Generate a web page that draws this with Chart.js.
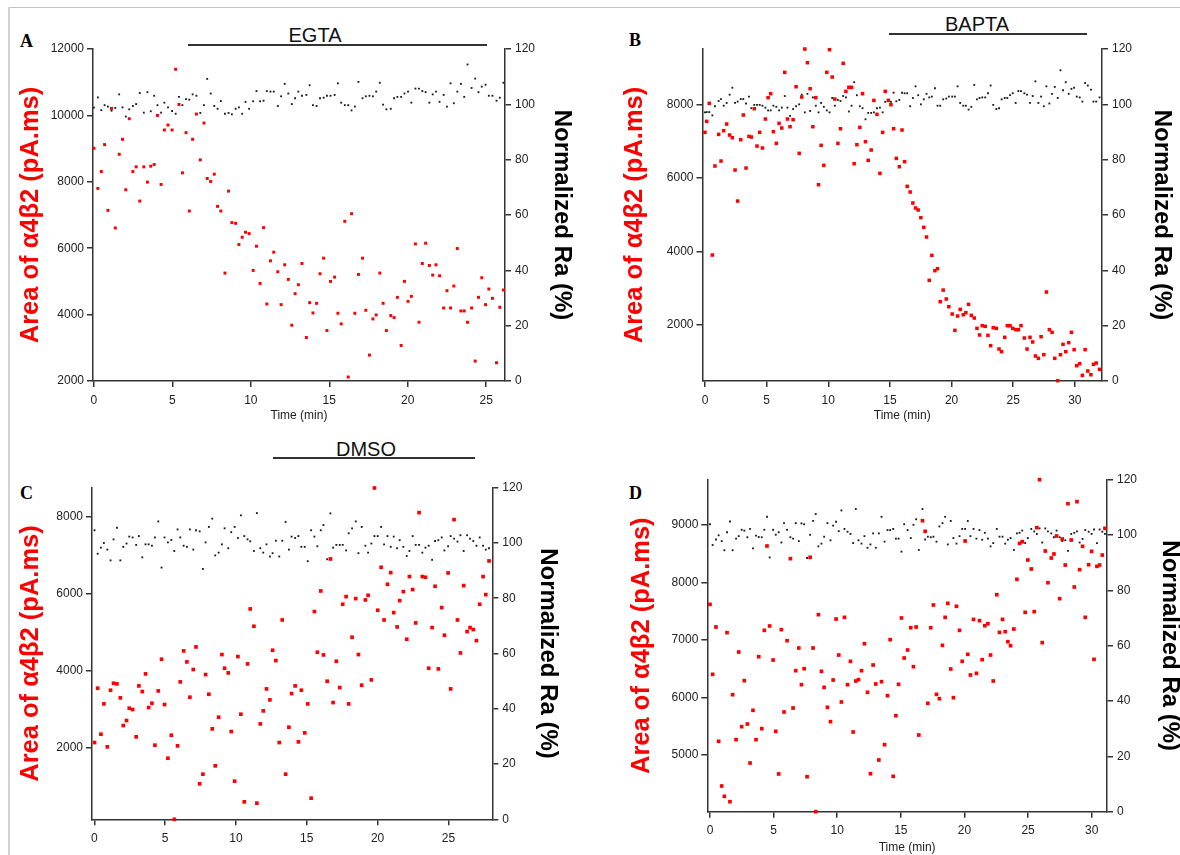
<!doctype html>
<html lang="en">
<head>
<meta charset="utf-8">
<title>α4β2 area and normalized Ra over time</title>
<script src="https://cdn.jsdelivr.net/npm/chart.js"></script>
<style>
  html, body { margin: 0; padding: 0; background: #fff; }
  body { width: 1180px; height: 855px; position: relative; overflow: hidden; font-family: "Liberation Sans", Arial, sans-serif; }
  .frame-top { position: absolute; left: 8px; top: 7px; width: 1172px; border-top: 1px solid #c4c4c4; }
  .frame-left { position: absolute; left: 8px; top: 7px; height: 848px; border-left: 2px solid #d2d2d2; }
  canvas { position: absolute; }
  .letter { position: absolute; font-family: "Liberation Serif", "Times New Roman", serif; font-weight: bold; font-size: 18px; line-height: 18px; }
  .drug { position: absolute; font-size: 20px; line-height: 20px; color: #111; transform: translateX(-50%); white-space: nowrap; }
  .bar { position: absolute; border-top: 2px solid #333; }
</style>
</head>
<body>
<div class="frame-top"></div>
<div class="frame-left"></div>

<div class="letter" style="left:20px; top:32px;">A</div>
<div class="letter" style="left:629px; top:31px;">B</div>
<div class="letter" style="left:20px; top:484px;">C</div>
<div class="letter" style="left:629px; top:484px;">D</div>

<div class="drug" style="left:315px; top:25px;">EGTA</div>
<div class="bar" style="left:188px; top:44px; width:299px;"></div>
<div class="drug" style="left:977px; top:14px;">BAPTA</div>
<div class="bar" style="left:889px; top:33px; width:198px;"></div>
<div class="drug" style="left:366px; top:439px;">DMSO</div>
<div class="bar" style="left:273px; top:457px; width:202px;"></div>

<canvas id="chartA" width="600" height="430" style="left:0px; top:0px;"></canvas>
<canvas id="chartB" width="600" height="430" style="left:600px; top:0px;"></canvas>
<canvas id="chartC" width="600" height="425" style="left:0px; top:430px;"></canvas>
<canvas id="chartD" width="600" height="425" style="left:600px; top:430px;"></canvas>

<script>
// ---- panel A (EGTA) ----
const timeA = [0.00,0.25,0.47,0.68,0.89,1.12,1.36,1.61,1.82,2.03,2.25,2.48,2.69,2.92,3.18,3.41,3.62,3.84,4.05,4.28,
  4.49,4.72,4.98,5.21,5.42,5.64,5.87,6.08,6.29,6.53,6.78,7.01,7.22,7.44,7.67,7.88,8.09,8.35,8.58,8.79,
  9.03,9.24,9.45,9.66,9.89,10.15,10.36,10.59,10.81,11.02,11.25,11.46,11.72,11.93,12.16,12.39,12.61,12.82,13.03,
  13.26,13.54,13.75,13.96,14.19,14.41,14.64,14.85,15.08,15.34,15.55,15.76,15.99,16.21,16.42,16.63,16.86,17.12,17.33,17.56,
  17.78,17.99,18.22,18.43,18.64,18.92,19.13,19.34,19.58,19.79,20.02,20.23,20.49,20.72,20.93,21.14,21.38,21.59,21.80,22.03,
  22.29,22.50,22.73,22.94,23.16,23.39,23.60,23.81,24.07,24.30,24.51,24.72,24.96,25.17,25.40,25.66,25.87,26.10];
const areaA = [9010,7800,8310,9120,7140,10210,6610,8830,9280,7760,9900,8310,8450,7420,8450,7990,8470,8520,10000,7920,
  9560,9710,9560,11390,10330,8270,9480,7120,9280,10040,8660,9770,8100,8010,8230,7260,7120,5250,7720,6770,
  6750,6110,6330,6480,6440,5330,6060,4940,6620,4320,5620,5880,5290,4300,5500,5060,3680,4630,4900,
  5540,3310,4360,4050,4340,5230,5700,3520,5000,5130,4040,3720,6810,2120,7040,4040,5210,5700,4130,2780,
  3870,3990,5250,4340,3520,3970,3910,4520,3070,5000,4400,4550,6130,3770,5540,6150,5480,5190,5500,5170,
  4200,4720,4200,4860,5990,4110,4110,3770,4200,2600,4520,5110,4300,4770,4490,2550,4220,4740];
const raA = [98.8,102.5,97.9,99.7,99.2,97.7,98.7,103.6,98.9,95.6,98.2,99.4,100.1,104.1,97.0,104.4,97.5,103.1,99.7,97.0,
  100.6,98.9,97.6,96.6,102.7,99.7,101.9,101.7,103.6,103.1,96.9,99.7,109.2,103.9,99.4,98.4,101.2,96.6,96.9,96.4,
  98.4,98.9,96.6,100.9,98.4,101.1,104.8,101.1,101.3,104.8,104.6,104.6,99.4,102.9,107.4,103.9,100.1,102.2,104.6,
  103.1,103.4,106.9,99.7,99.4,102.2,102.4,103.1,103.1,103.4,107.6,100.6,99.7,99.7,97.8,99.2,108.1,102.2,102.9,103.1,
  102.9,104.6,107.8,99.9,98.2,98.4,102.2,102.7,102.7,103.9,104.6,100.6,105.7,105.7,104.8,104.4,100.6,103.6,104.6,100.9,
  103.4,99.2,107.6,100.4,104.6,107.4,102.7,114.4,105.9,109.3,104.4,106.4,107.1,103.1,103.1,101.3,102.4,107.8];

// ---- panel B (BAPTA) ----
const timeB = [0.00,0.14,0.35,0.60,0.81,1.11,1.30,1.52,1.76,2.00,2.22,2.44,2.65,2.90,3.11,3.33,3.57,3.76,4.00,4.22,
  4.44,4.66,4.90,5.12,5.33,5.55,5.79,6.01,6.23,6.47,6.69,6.90,7.15,7.39,7.64,7.85,8.10,8.31,8.53,8.75,
  8.99,9.21,9.42,9.64,9.88,10.10,10.32,10.53,10.78,10.99,11.21,11.43,11.67,11.89,12.10,12.32,12.56,12.78,13.02,13.24,
  13.48,13.70,13.95,14.19,14.41,14.62,14.87,15.08,15.30,15.52,15.76,15.98,16.19,
  16.40,16.64,16.86,17.08,17.29,17.51,17.75,17.97,18.19,18.40,18.65,18.86,19.08,19.32,19.57,19.78,20.05,20.27,20.49,20.70,
  20.95,21.16,21.38,21.60,21.84,22.06,22.27,22.49,22.73,22.95,23.17,23.38,23.63,23.85,24.06,24.31,24.52,24.74,24.96,25.20,
  25.42,25.63,25.90,26.12,26.36,26.58,26.80,27.04,27.26,27.48,27.69,27.93,28.15,28.37,28.61,28.83,29.04,29.26,29.50,29.72,
  29.94,30.15,30.39,30.61,30.83,31.05,31.30,31.51,31.73,32.00];
const areaB = [7247,7546,8036,3906,6330,7192,6466,7292,7473,7174,7101,6221,5376,7047,7719,6275,7138,7119,7891,6874,
  7247,6820,7610,8191,8300,7265,6947,7492,7365,8881,7610,7401,7591,8490,6675,8209,9516,9144,8436,7401,
  8191,5821,6893,6348,8881,9498,8754,8154,6947,7346,9126,8363,8472,8472,6393,6911,7383,8300,6992,6484,
  6766,8118,7737,6130,7247,8363,8118,8000,7346,6538,6311,7310,6448,
  5776,5622,5322,5186,5132,4923,4660,4397,3216,3897,3480,3534,2635,2951,2708,2499,2299,1854,2245,2426,
  2281,2335,2562,2263,2190,1909,1728,1982,1963,1719,1437,1927,1909,1346,1274,1664,1982,1982,1909,1873,
  1873,1982,1646,1346,1664,1537,1156,1092,1682,1192,2898,1873,1800,1092,483,1192,1473,1274,1519,1800,
  1328,892,946,628,1328,747,646,928,964,792];
const raB = [97.1,97.2,97.2,96.0,99.3,101.2,101.9,99.5,100.5,103.5,106.0,100.5,101.0,101.9,101.9,100.3,102.8,98.6,99.8,99.8,
  99.8,99.5,98.8,97.8,97.8,99.5,99.1,97.8,98.8,103.0,98.8,95.8,98.3,99.3,100.0,103.5,97.1,103.8,97.6,102.5,
  99.5,97.1,100.5,99.1,97.8,97.1,102.3,99.5,101.6,101.2,103.0,102.5,97.4,99.5,108.0,103.3,99.3,98.6,94.6,96.9,
  96.9,97.1,98.6,98.8,97.1,100.9,101.6,100.9,104.2,101.1,101.6,104.2,104.0,
  104.0,99.3,102.3,106.5,103.3,100.0,101.8,103.8,102.5,102.8,105.8,99.5,99.5,101.8,102.1,102.8,102.8,102.8,106.5,100.5,
  99.5,99.5,98.1,99.1,107.0,101.8,102.3,102.5,102.5,104.0,106.8,99.8,98.3,98.6,101.8,102.3,102.3,103.3,104.0,100.5,
  104.8,104.8,104.0,103.5,100.5,103.0,108.3,100.5,102.8,99.3,106.5,100.3,103.8,106.3,102.3,112.3,105.1,108.0,103.8,105.6,
  106.0,102.8,102.5,101.0,107.7,106.8,105.3,101.0,101.0,102.5];

// ---- panel C (DMSO) ----
const timeC = [0.02,0.24,0.47,0.68,0.92,1.15,1.36,1.60,1.84,2.05,2.28,2.47,2.71,2.96,3.15,3.39,3.62,3.84,4.07,4.28,
  4.52,4.75,4.96,5.20,5.44,5.65,5.88,6.07,6.31,6.54,6.75,6.99,7.18,7.44,7.67,7.86,8.09,8.33,8.54,8.78,
  9.01,9.20,9.46,9.67,9.91,10.14,10.35,10.59,10.82,11.01,11.27,11.48,11.72,11.93,12.16,12.40,12.59,12.82,13.06,13.27,
  13.51,13.74,13.93,
  14.18,14.41,14.62,14.86,15.07,15.31,15.54,15.75,15.99,16.18,16.44,16.67,16.86,17.09,17.33,17.54,17.78,17.96,18.20,18.46,
  18.65,18.88,19.14,19.33,19.56,19.78,20.01,20.25,20.46,20.70,20.93,21.14,21.38,21.56,21.82,22.06,22.25,22.48,22.69,22.93,
  23.16,23.38,23.61,23.85,24.06,24.29,24.53,24.72,24.98,25.16,25.40,25.64,25.85,26.08,26.32,26.53,26.76,26.98,27.21,27.45,
  27.64,27.87];
const areaC = [2139,3546,2355,3140,2027,3494,3675,3658,3296,2579,2709,3028,2994,2286,3606,3460,3917,3045,3157,2070,
  3477,4297,3123,1733,2329,150,2053,3710,4513,4228,3313,4030,4616,1069,1319,3900,3390,2493,1535,2795,
  4418,4064,3943,2424,1138,4366,2873,602,4176,5600,5151,568,2622,2959,3528,3244,4530,4262,2139,5315,
  1319,2536,3408,
  3606,2156,3494,2389,3140,697,5531,4478,6066,4409,3727,6895,3175,4245,3563,5721,5920,3140,4867,5868,
  4418,3624,5833,5954,3762,8734,5566,6679,5315,6239,6541,5505,5134,5815,6049,4815,6438,6101,5238,8095,
  6438,6420,4064,5117,6187,4047,5635,4919,6533,3528,7914,5315,4461,6204,5013,5117,5065,4780,5721,6438,
  5971,6843];
const raC = [104.6,96.1,98.3,100.0,97.6,93.7,101.3,105.5,93.7,98.6,99.8,102.3,102.0,99.3,102.5,94.8,99.5,99.5,99.0,102.0,
  107.8,91.1,102.0,100.2,101.1,97.1,104.9,102.0,99.0,98.6,104.9,97.6,104.6,104.2,90.6,100.2,105.8,108.8,95.5,96.5,
  99.5,105.3,98.1,103.9,105.8,101.8,110.0,102.5,101.3,100.6,97.1,110.8,98.1,96.5,99.5,95.1,96.3,100.8,95.1,100.8,
  107.6,97.6,102.3,
  101.8,102.5,98.6,98.6,93.4,104.6,102.3,98.8,104.6,106.5,94.1,110.7,98.3,99.3,99.3,99.3,97.3,103.5,105.3,107.8,
  96.3,105.8,99.0,96.5,99.8,102.5,102.5,105.8,99.5,102.5,98.6,102.3,98.1,101.0,98.6,95.3,97.1,102.5,99.3,99.3,
  96.5,98.3,99.0,93.9,100.7,101.0,102.0,97.3,98.8,102.5,101.6,100.5,102.8,97.1,102.8,101.6,100.7,99.0,102.0,99.0,
  97.6,98.1];

// ---- panel D ----
const timeD = [0.00,0.21,0.47,0.68,0.92,1.13,1.34,1.57,1.78,2.05,2.26,2.49,2.70,2.94,3.15,3.38,3.62,3.83,4.07,4.27,
  4.48,4.69,4.96,5.17,5.40,5.61,5.82,6.06,6.32,6.53,6.74,6.98,7.19,7.40,7.63,7.87,8.10,8.31,8.52,8.76,
  8.97,9.23,9.47,9.68,9.91,10.12,10.33,10.57,10.81,11.04,11.25,11.46,11.67,11.91,12.14,12.38,12.61,12.82,13.03,13.27,
  13.48,13.72,13.95,14.16,14.40,14.61,14.82,15.05,15.26,15.53,
  15.78,15.99,16.20,16.41,16.70,16.91,17.12,17.35,17.56,17.80,18.03,18.27,18.48,18.69,18.92,19.13,19.37,19.61,19.82,20.05,
  20.26,20.47,20.71,20.94,21.18,21.39,21.60,21.84,22.05,22.26,22.54,22.75,22.99,23.20,23.41,23.62,23.88,24.12,24.33,24.54,
  24.77,24.98,25.25,25.48,25.69,25.90,26.11,26.35,26.56,26.82,27.03,27.24,27.48,27.68,27.92,28.13,28.39,28.63,28.84,29.05,
  29.28,29.49,29.76,29.99,30.18,30.41,30.62,30.83,31.04];
const areaD = [7620,6403,7226,5238,4461,4281,7128,4188,6049,5267,6791,5493,6293,5539,4861,5777,5267,6710,5458,7168,
  8635,7244,6652,5412,4670,7180,5748,6988,8415,5817,6467,6861,6223,6501,4623,8438,6861,4015,7441,6455,
  6177,5829,5580,6304,7365,6739,5922,7394,6223,6629,5400,6287,6310,6467,6936,6090,4675,6565,6235,4913,
  6275,5180,6032,7006,4629,5684,6229,7383,6687,6826,
  7214,6536,7226,5348,9075,8890,5899,7214,7609,6055,5980,6907,7394,7638,6496,5997,7586,7168,6629,8722,
  6751,6391,7359,6420,7336,6658,7249,7284,6739,6287,7788,7133,7359,7145,6971,6901,7191,8055,8681,8710,
  7481,8391,8235,7493,8954,9788,6954,8548,7997,8426,8496,8809,7719,8757,8304,9371,8739,7922,9406,8223,
  8629,7394,8310,8542,6664,8281,8304,8478,8942];
const raD = [103.9,96.4,98.4,99.9,97.8,94.5,101.0,104.9,94.5,98.7,99.6,101.9,101.6,99.2,102.2,95.2,99.8,99.3,99.2,101.9,
  106.6,91.9,101.9,100.1,101.0,97.3,104.3,101.9,99.2,98.7,104.3,97.8,104.2,103.9,91.7,100.1,105.1,107.6,95.9,96.9,
  99.4,104.3,98.1,103.4,104.8,101.4,108.9,102.2,101.2,100.4,97.1,109.4,98.1,96.9,99.6,95.4,96.6,100.6,95.4,100.6,
  106.6,97.6,101.8,101.8,102.2,98.7,98.7,94.0,103.9,101.8,
  98.9,103.7,105.7,94.6,109.4,98.4,99.4,99.2,99.4,97.6,103.1,104.3,106.6,96.6,105.1,98.9,96.9,99.6,102.2,102.2,
  105.1,99.6,102.2,98.7,101.8,98.3,100.8,98.7,95.9,97.1,102.2,99.4,99.4,96.9,98.3,98.9,94.6,100.6,100.8,101.6,
  97.1,98.9,102.2,101.3,100.4,102.4,97.3,102.4,101.3,100.6,99.2,101.6,99.2,97.8,98.1,94.3,100.4,100.8,101.3,97.3,
  98.6,101.8,101.2,100.4,102.0,97.1,102.0,101.2,100.4];

// tick labels
const timeTicks25 = [0, 5, 10, 15, 20, 25];
const timeTicks30 = [0, 5, 10, 15, 20, 25, 30];
const areaTicksA = [2000, 4000, 6000, 8000, 10000, 12000];
const areaTicksBC = [2000, 4000, 6000, 8000];
const areaTicksD = [5000, 6000, 7000, 8000, 9000];
const raTicks = [0, 20, 40, 60, 80, 100, 120];

Chart.defaults.font.family = '"Liberation Sans", Arial, sans-serif';
Chart.defaults.color = '#222';

const axisGrid = { display: true, drawOnChartArea: false, drawTicks: true, tickLength: 6, color: '#333', lineWidth: 1.5 };
const axisBorder = { display: true, color: '#333', width: 1.5 };
const tickFont = { size: 12 };
const plainNumber = v => String(v);

function pts(xs, ys) {
  return xs.map((x, i) => ({ x: x, y: ys[i] }));
}

function useTicks(list) {
  return scale => { scale.ticks = list.map(v => ({ value: v })); };
}

function makePanel(id, p) {
  new Chart(document.getElementById(id), {
    type: 'scatter',
    data: {
      datasets: [
        { data: pts(p.time, p.area), yAxisID: 'y', pointStyle: 'rect', pointRadius: p.redR,
          backgroundColor: '#ff0000', borderWidth: 0, clip: false },
        { data: pts(p.time, p.ra), yAxisID: 'y2', pointStyle: 'rect', pointRadius: 1.3,
          backgroundColor: '#1a1a1a', borderWidth: 0, clip: false }
      ]
    },
    options: {
      responsive: false,
      animation: false,
      devicePixelRatio: 1,
      layout: { padding: { top: p.padTop, bottom: p.padBottom, left: 0, right: 0 } },
      plugins: { legend: { display: false }, tooltip: { enabled: false } },
      scales: {
        x: {
          type: 'linear', position: 'bottom', min: p.xMin, max: p.xMax,
          afterBuildTicks: useTicks(p.xTicks),
          afterFit: s => { s.height = p.xH; },
          grid: axisGrid, border: axisBorder,
          ticks: { font: tickFont, padding: 6, maxRotation: 0, autoSkip: false, callback: plainNumber },
          title: { display: p.showTime, text: 'Time (min)', font: { size: 12 }, color: '#222', padding: { top: 0, bottom: p.timePad } }
        },
        y: {
          type: 'linear', position: 'left', min: p.yMin, max: p.yMax,
          afterBuildTicks: useTicks(p.yTicks),
          afterFit: s => { s.width = p.leftW; },
          grid: axisGrid, border: axisBorder,
          ticks: { font: tickFont, padding: 3, callback: plainNumber },
          title: { display: true, text: 'Area of α4β2 (pA.ms)', color: '#ff0000',
                   font: { size: 25.5, weight: 'bold' }, padding: { top: p.leftPad, bottom: 0 } }
        },
        y2: {
          type: 'linear', position: 'right', min: 0, max: 120,
          afterBuildTicks: useTicks(raTicks),
          afterFit: s => { s.width = p.rightW; },
          grid: axisGrid, border: axisBorder,
          ticks: { font: tickFont, padding: 4, callback: plainNumber },
          title: { display: true, text: 'Normalized Ra (%)', color: '#000',
                   font: { size: 24, weight: 'bold' }, padding: { top: p.rightPad, bottom: 0 } }
        }
      }
    }
  });
}

makePanel('chartA', {
  time: timeA, area: areaA, ra: raA, redR: 2.1,
  xMin: -0.06, xMax: 26.2, xTicks: timeTicks25,
  yMin: 2000, yMax: 12000, yTicks: areaTicksA,
  padTop: 49, padBottom: 5, xH: 44, leftW: 93, rightW: 95,
  leftPad: 16, rightPad: 23.6, showTime: true, timePad: 2
});

makePanel('chartB', {
  time: timeB, area: areaB, ra: raB, redR: 2.5,
  xMin: -0.2, xMax: 32.2, xTicks: timeTicks30,
  yMin: 475, yMax: 9517, yTicks: areaTicksBC,
  padTop: 49, padBottom: 5, xH: 44, leftW: 102.5, rightW: 98,
  leftPad: 20, rightPad: 23.6, showTime: true, timePad: 2
});

makePanel('chartC', {
  time: timeC, area: areaC, ra: raC, redR: 2.6,
  xMin: -0.16, xMax: 28.1, xTicks: timeTicks25,
  yMin: 150, yMax: 8741, yTicks: areaTicksBC,
  padTop: 57.7, padBottom: 0, xH: 35.7, leftW: 92, rightW: 107.7,
  leftPad: 16, rightPad: 37.6, showTime: false, timePad: 0
});

makePanel('chartD', {
  time: timeD, area: areaD, ra: raD, redR: 2.6,
  xMin: -0.21, xMax: 31.2, xTicks: timeTicks30,
  yMin: 4014, yMax: 9788, yTicks: areaTicksD,
  padTop: 49.7, padBottom: 0, xH: 43.3, leftW: 107.3, rightW: 93,
  leftPad: 27, rightPad: 15.6, showTime: true, timePad: 0
});
</script>
</body>
</html>
